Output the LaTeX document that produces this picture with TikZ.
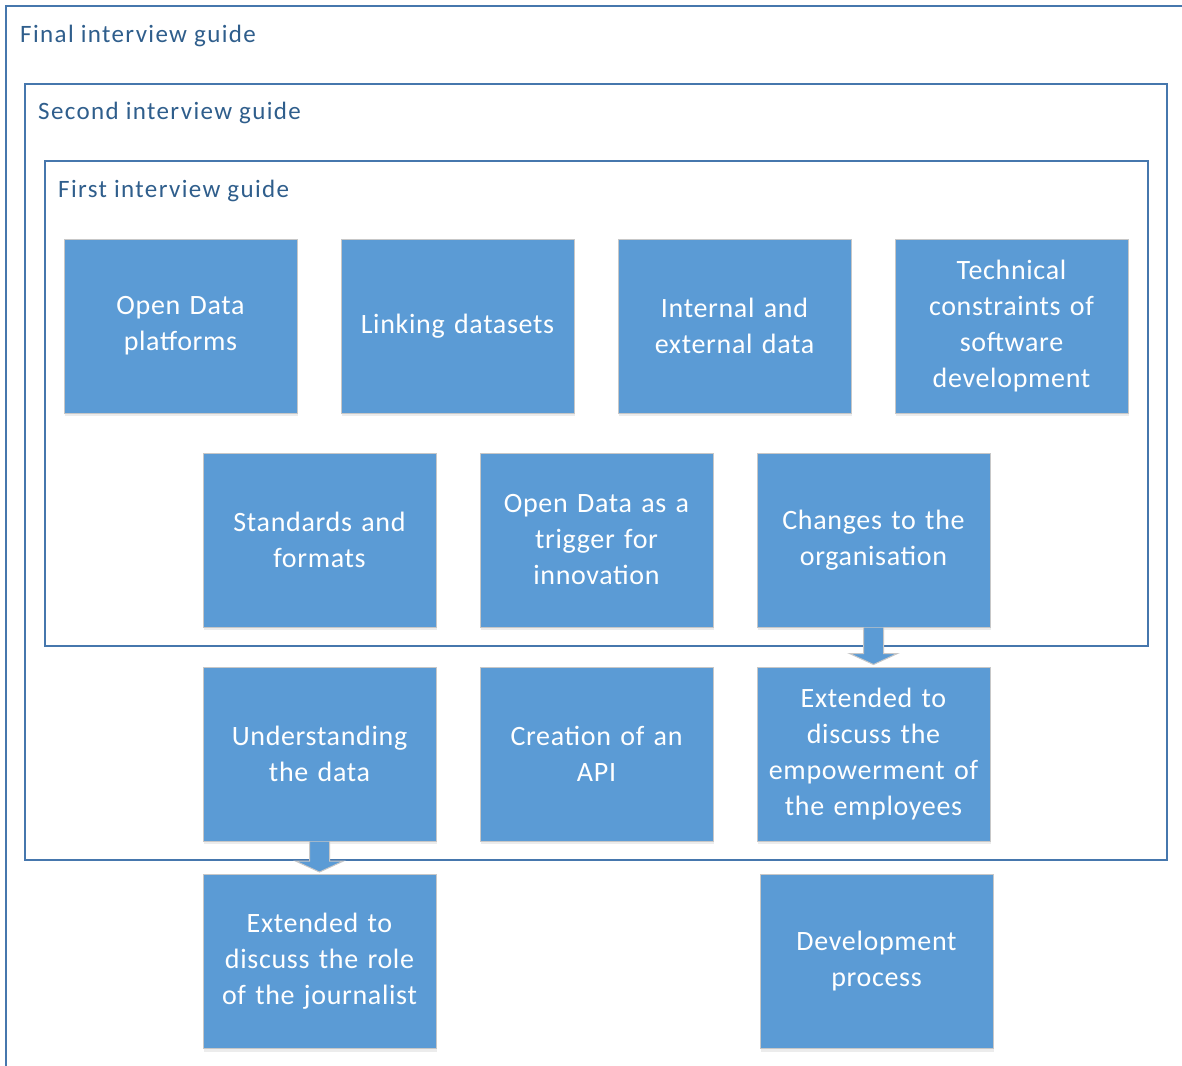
\documentclass[tikz,border=0pt]{standalone}
\usepackage{fontspec}
\setmainfont{Carlito}
\newfontfamily\titlefont[LetterSpace=5.5]{Carlito}
\newfontfamily\topicfont[LetterSpace=2.4]{Carlito}
\usetikzlibrary{calc,shadows}
\definecolor{topicblue}{HTML}{5B9BD5}
\definecolor{framecol}{HTML}{4677AD}
\definecolor{titlecol}{HTML}{2F5E8C}

\begin{document}
\begin{tikzpicture}
    [x=1pt, y=-1pt,
     Frame/.style={draw=framecol, line width=1.6pt, fill=white},
     Title/.style={anchor=base west, text=titlecol, inner sep=0pt, font=\titlefont\fontsize{25}{30}\selectfont},
     Topic/.style={rectangle, draw=black!22, line width=1pt, fill=topicblue, text=white,
                   minimum width=233pt, minimum height=174pt, text width=225pt, align=center,
                   font=\topicfont\fontsize{28}{36}\selectfont,
                   drop shadow={shadow xshift=1pt, shadow yshift=-3pt, opacity=0.15}},
     BlockArrow/.style={draw=black!22, line width=1pt, fill=topicblue}]
	\useasboundingbox (0,0) rectangle (1182,1065);
	% nested guides
	\draw[Frame] (6,6) rectangle (1200,1090);
	\draw[Frame] (25,84) rectangle (1167,860);
	\draw[Frame] (45,161) rectangle (1148,646);
	\node[Title] (FinalTitle) at (20,42) {Final interview guide};
	\node[Title] (SecondTitle) at (38,119) {Second interview guide};
	\node[Title] (FirstTitle) at (58,197) {First interview guide};
	% first guide
	\node[Topic] (Tplatforms) at (180.5, 326) {Open Data\\platforms};
	\node[Topic] (Tlinking) at (457.5, 326) {Linking datasets};
	\node[Topic] (Tintext) at (734.5, 326) {Internal and\\external data};
	\node[Topic] (Ttechnical) at (1011.5, 326) {Technical\\constraints of\\software\\development};
	\node[Topic] (Tstandards) at (319.5, 540) {Standards and\\formats};
	\node[Topic] (Ttrigger) at (596.5, 540) {Open Data as a\\trigger for\\innovation};
	\node[Topic] (Tchanges) at (873.5, 540) {Changes to the\\organisation};
	% second guide
	\node[Topic] (Tunderstanding) at (319.5, 754) {Understanding\\the data};
	\node[Topic] (Tapi) at (596.5, 754) {Creation of an\\API};
	\node[Topic] (Tempowerment) at (873.5, 754) {Extended to\\discuss the\\empowerment of\\the employees};
	% final guide
	\node[Topic] (Tjournalist) at (319.5, 961.5) {Extended to\\discuss the role\\of the journalist};
	\node[Topic] (Tdevelopment) at (876.5, 961.5) {Development\\process};
	% extensions
	\foreach \a/\b in {Tchanges/Tempowerment, Tunderstanding/Tjournalist}
		\draw[BlockArrow] ($(\a.south)+(-10,0)$) -- ($(\b.north)+(-10,-13)$)
			-- ($(\b.north)+(-24,-13)$) -- ($(\b.north)+(0,-2)$)
			-- ($(\b.north)+(24,-13)$) -- ($(\b.north)+(10,-13)$)
			-- ($(\a.south)+(10,0)$);
\end{tikzpicture}
\end{document}
